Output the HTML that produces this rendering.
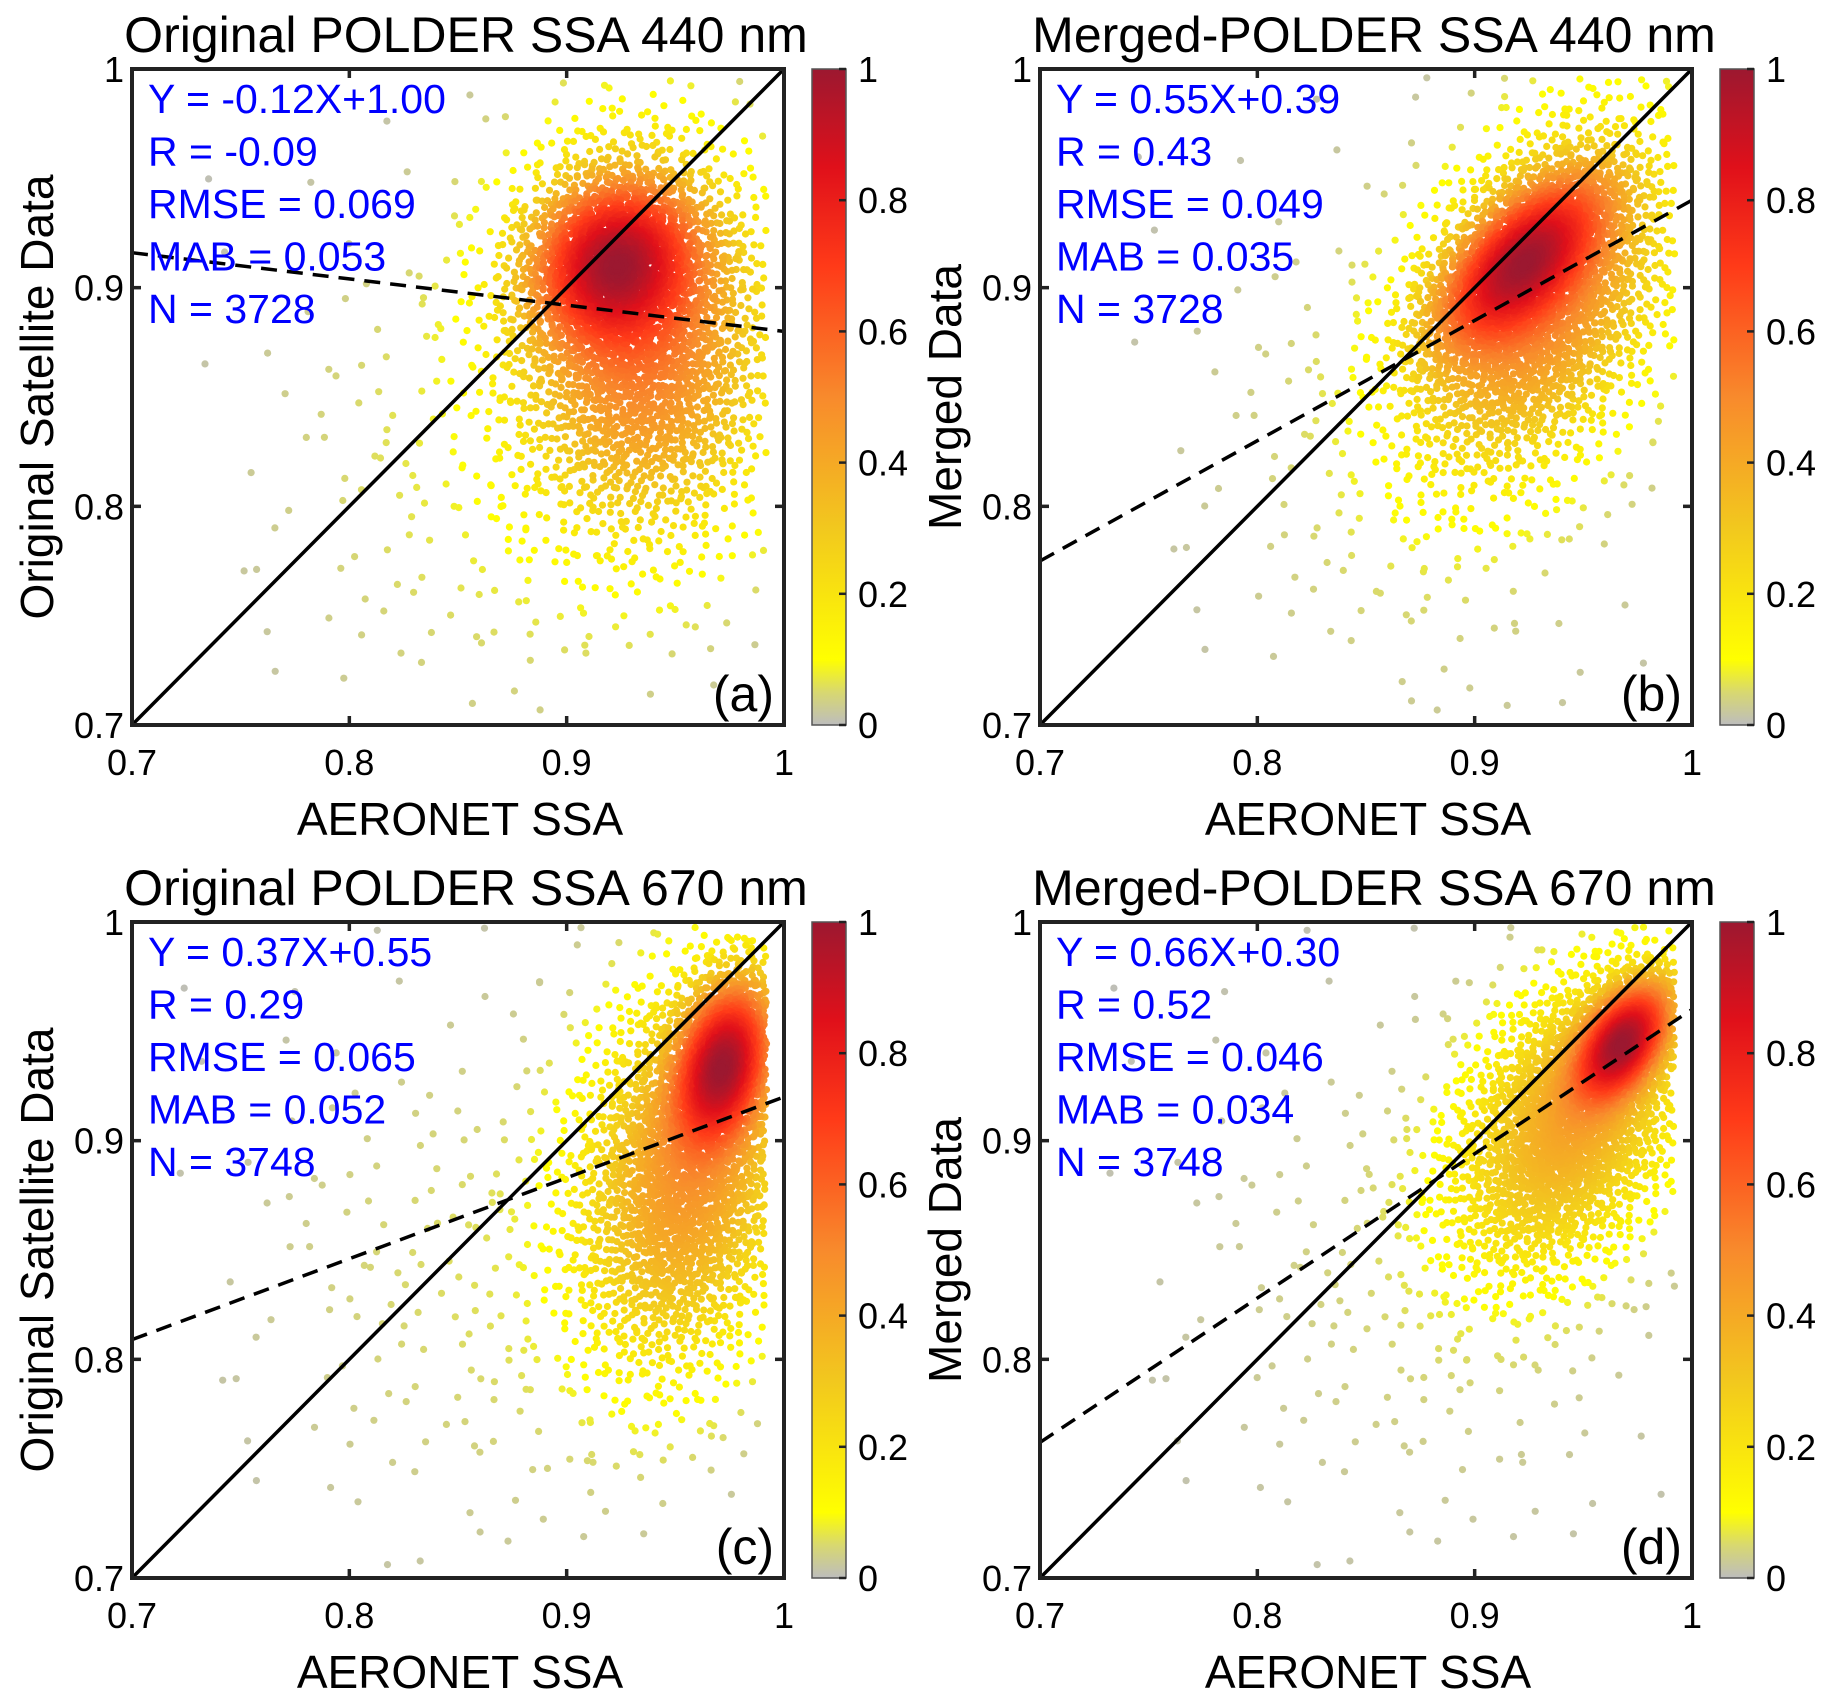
<!DOCTYPE html>
<html><head><meta charset="utf-8"><style>
html,body{margin:0;padding:0;background:#fff}
svg{display:block;font-family:"Liberation Sans",Arial,sans-serif}
</style></head><body>
<svg id="fig" width="1829" height="1704" viewBox="0 0 1829 1704">
<defs>
<linearGradient id="cmap" x1="0" y1="1" x2="0" y2="0">
<stop offset="0" stop-color="#bdbdbd"/><stop offset="0.05" stop-color="#d8d870"/><stop offset="0.1" stop-color="#ffff00"/>
<stop offset="0.3" stop-color="#f2c81e"/><stop offset="0.5" stop-color="#f88a2c"/><stop offset="0.7" stop-color="#ff3a18"/>
<stop offset="0.85" stop-color="#e0101a"/><stop offset="1" stop-color="#9c1830"/>
</linearGradient>
</defs>
</svg>
<script>
// ---- data ----
const panelTitles = ["Original POLDER SSA 440 nm","Merged-POLDER SSA 440 nm","Original POLDER SSA 670 nm","Merged-POLDER SSA 670 nm"];
const yLabels = ["Original Satellite Data","Merged Data","Original Satellite Data","Merged Data"];
const panelTags = ["(a)","(b)","(c)","(d)"];
const slopes = [-0.12,0.55,0.37,0.66];
const intercepts = [1.00,0.39,0.55,0.30];
const statR = ["-0.09","0.43","0.29","0.52"];
const statRMSE = ["0.069","0.049","0.065","0.046"];
const statMAB = ["0.053","0.035","0.052","0.034"];
const statN = ["3728","3728","3748","3748"];
const axisTicks = [0.7,0.8,0.9,1];
const axisTickLabels = ["0.7","0.8","0.9","1"];
const cbarTicks = [0,0.2,0.4,0.6,0.8,1];
const cbarTickLabels = ["0","0.2","0.4","0.6","0.8","1"];
// point clusters per panel: [centerX, centerY, sdX, sdY, correlation, count]
const clustersA = [[0.922,0.912,0.022,0.022,0.1,1400],[0.935,0.875,0.033,0.048,0,2100],[0.87,0.82,0.06,0.07,0,220]];
const clustersB = [[0.922,0.912,0.022,0.022,0.6,1400],[0.93,0.895,0.033,0.043,0.4,2100],[0.88,0.83,0.06,0.07,0,220]];
const clustersC = [[0.972,0.935,0.013,0.022,0.3,1400],[0.955,0.885,0.028,0.048,0.2,2100],[0.87,0.84,0.065,0.07,0,240]];
const clustersD = [[0.968,0.945,0.013,0.016,0.5,1400],[0.945,0.91,0.03,0.038,0.4,2100],[0.88,0.84,0.065,0.07,0,240]];
const allClusters = [clustersA,clustersB,clustersC,clustersD];

const NS="http://www.w3.org/2000/svg";
const svg=document.getElementById('fig');
function mk(tag,attrs,parent){const e=document.createElementNS(NS,tag);for(const k in attrs)e.setAttribute(k,attrs[k]);(parent||svg).appendChild(e);return e;}
const AX={x:132,y:69,w:652,h:656};
const offsets=[[0,0],[908,0],[0,853],[908,853]];
const CMAP=[[0,[189,189,189]],[0.05,[216,216,112]],[0.1,[255,255,0]],[0.3,[242,200,30]],[0.5,[248,138,44]],[0.7,[255,58,24]],[0.85,[224,16,26]],[1,[156,24,48]]];
function cmap(v){v=Math.max(0,Math.min(1,v));for(let i=1;i<CMAP.length;i++){if(v<=CMAP[i][0]){const a=CMAP[i-1],b=CMAP[i],t=(v-a[0])/(b[0]-a[0]);return 'rgb('+a[1].map((c,j)=>Math.round(c+(b[1][j]-c)*t)).join(',')+')';}}return 'rgb(156,24,48)';}
function halton(i,b){let f=1,r=0;while(i>0){f/=b;r+=f*(i%b);i=Math.floor(i/b);}return r;}
function dens(cl,x,y){let s=0;for(const c of cl){const dx=(x-c[0])/c[2],dy=(y-c[1])/c[3],r=c[4];const q=(dx*dx-2*r*dx*dy+dy*dy)/(1-r*r);s+=c[5]/(c[2]*c[3]*Math.sqrt(1-r*r))*Math.exp(-q/2);}return s;}

offsets.forEach((o,p)=>{
  const g=mk('g',{transform:`translate(${o[0]},${o[1]})`});
  
  
  const sx=v=>AX.x+(v-0.7)/0.3*AX.w, sy=v=>AX.y+AX.h-(v-0.7)/0.3*AX.h;
  const t=mk('text',{x:AX.x+AX.w/2+8,y:52,'text-anchor':'middle','font-size':50,fill:'#000'},g);t.textContent=panelTitles[p];
  
  const cl=allClusters[p];let pts=[];let idx=1;
  const dmax=Math.max(...cl.map(c=>dens(cl,c[0],c[1])));
  cl.forEach(c=>{for(let k=0;k<c[5];k++,idx++){const u1=Math.max(1e-6,halton(idx,2)),u2=halton(idx,3);const rr=Math.sqrt(-2*Math.log(u1));const z1=rr*Math.cos(2*Math.PI*u2),z2=rr*Math.sin(2*Math.PI*u2);
    const x=c[0]+c[2]*z1,y=c[1]+c[3]*(c[4]*z1+Math.sqrt(1-c[4]*c[4])*z2);
    if(x<0.702||x>0.992||y<0.705||y>0.998)continue;pts.push([x,y,dens(cl,x,y)/dmax]);}});
  pts.sort((a,b)=>a[2]-b[2]);
  const pg=mk('g',{},g);
  pts.forEach(q=>{mk('circle',{cx:sx(q[0]).toFixed(1),cy:sy(q[1]).toFixed(1),r:3.6,fill:cmap(Math.pow(q[2],0.6))},pg);});
  const l1=mk('line',{x1:sx(0.7),y1:sy(0.7),x2:sx(1),y2:sy(1),stroke:'#000','stroke-width':3.5},g);
  
  const fl=mk('line',{x1:sx(0.7),y1:sy(slopes[p]*0.7+intercepts[p]),x2:sx(1),y2:sy(slopes[p]*1+intercepts[p]),stroke:'#000','stroke-width':3.5,'stroke-dasharray':'16,10'},g);
  
  const fr=mk('rect',{x:AX.x,y:AX.y,width:AX.w,height:AX.h,fill:'none',stroke:'#222','stroke-width':4},g);
  
  axisTicks.forEach((v,i)=>{
    mk('line',{x1:sx(v),y1:AX.y+AX.h,x2:sx(v),y2:AX.y+AX.h-9,stroke:'#222','stroke-width':3.5},g);
    mk('line',{x1:sx(v),y1:AX.y,x2:sx(v),y2:AX.y+9,stroke:'#222','stroke-width':3.5},g);
    mk('line',{x1:AX.x,y1:sy(v),x2:AX.x+9,y2:sy(v),stroke:'#222','stroke-width':3.5},g);
    mk('line',{x1:AX.x+AX.w,y1:sy(v),x2:AX.x+AX.w-9,y2:sy(v),stroke:'#222','stroke-width':3.5},g);
    const xt=mk('text',{x:sx(v),y:AX.y+AX.h+50,'text-anchor':'middle','font-size':36,fill:'#000'},g);xt.textContent=axisTickLabels[i];
    
    const yt=mk('text',{x:AX.x-8,y:sy(v)+13,'text-anchor':'end','font-size':36,fill:'#000'},g);yt.textContent=axisTickLabels[i];
    
  });
  const xl=mk('text',{x:AX.x+AX.w/2+2,y:835,'text-anchor':'middle','font-size':46,fill:'#000'},g);xl.textContent='AERONET SSA';
  
  const yl=mk('text',{x:0,y:0,'text-anchor':'middle','font-size':46,fill:'#000',transform:`translate(53,${AX.y+AX.h/2}) rotate(-90)`},g);yl.textContent=yLabels[p];
  
  const lines=[`Y = ${slopes[p].toFixed(2)}X+${intercepts[p].toFixed(2)}`,`R = ${statR[p]}`,`RMSE = ${statRMSE[p]}`,`MAB = ${statMAB[p]}`,`N = ${statN[p]}`];
  lines.forEach((s,i)=>{const st=mk('text',{x:148,y:113+i*52.5,'font-size':41,fill:'#0000ff'},g);st.textContent=s;
    });
  const tg=mk('text',{x:AX.x+AX.w-10,y:AX.y+AX.h-14,'text-anchor':'end','font-size':50,fill:'#000'},g);tg.textContent=panelTags[p];
  
  const cb=mk('rect',{x:812,y:AX.y,width:34,height:AX.h,fill:'url(#cmap)',stroke:'#555','stroke-width':1.5},g);
  
  cbarTicks.forEach((v,i)=>{const y=AX.y+AX.h-v*AX.h;
    mk('line',{x1:846,y1:y,x2:839,y2:y,stroke:'#222','stroke-width':2.5},g);
    const ct=mk('text',{x:858,y:y+13,'font-size':36,fill:'#000'},g);ct.textContent=cbarTickLabels[i];
    });
});
</script>
</body></html>
